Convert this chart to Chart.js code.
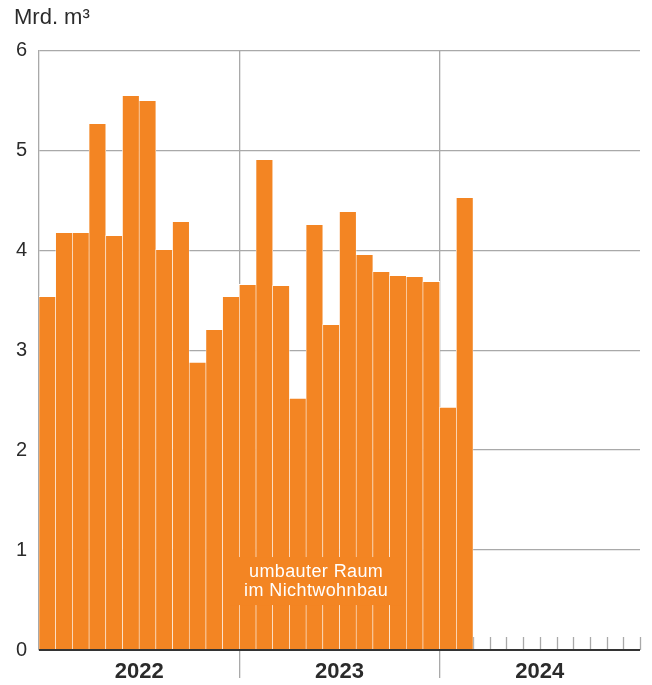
<!DOCTYPE html>
<html>
<head>
<meta charset="utf-8">
<script src="https://cdn.jsdelivr.net/npm/chart.js@4.4.1/dist/chart.umd.min.js"></script>
<style>
html, body { margin: 0; padding: 0; background: #fff; }
</style>
</head>
<body>
<canvas id="c" width="652" height="685"></canvas>
<script>
// monthly volume, non-residential building, Jan 2022 - Feb 2024
var years = ['2022', '2023', '2024'];
var monthNames = ['Jan', 'Feb', 'Mär', 'Apr', 'Mai', 'Jun', 'Jul', 'Aug', 'Sep', 'Okt', 'Nov', 'Dez'];
var volume = [3.54, 4.18, 4.18, 5.27, 4.15, 5.55, 5.50, 4.01, 4.29, 2.88, 3.21, 3.54,
              3.66, 4.91, 3.65, 2.52, 4.26, 3.26, 4.39, 3.96, 3.79, 3.75, 3.74, 3.69,
              2.43, 4.53];
var yTicks = [0, 1, 2, 3, 4, 5, 6];
var unitLabel = 'Mrd. m\u00b3';
var seriesLabel = ['umbauter Raum', 'im Nichtwohnbau'];

var months = [];
years.forEach(function (y) {
    monthNames.forEach(function (m) { months.push(m + ' ' + y); });
});

var ORANGE = '#f38523';
var GRID = '#a9a9a9';
var INK = '#2b2b2b';
var FONT = "'Liberation Sans', Arial, sans-serif";

var framePlugin = {
    id: 'frame',
    beforeDatasetsDraw: function (chart) {
        var ctx = chart.ctx;
        var x = chart.scales.x, y = chart.scales.y;
        var base = y.getPixelForValue(0);
        ctx.save();
        ctx.strokeStyle = GRID;
        ctx.lineWidth = 1.3;
        // small month marks along the baseline, only where there are no bars
        for (var i = volume.length; i <= months.length; i++) {
            var px = Math.round(x.getPixelForValue(i - 0.5)) + 0.5;
            ctx.beginPath();
            ctx.moveTo(px, base - 13);
            ctx.lineTo(px, base);
            ctx.stroke();
        }
        ctx.restore();
    },
    afterDatasetsDraw: function (chart) {
        var ctx = chart.ctx;
        var x = chart.scales.x, y = chart.scales.y;
        var area = chart.chartArea;
        var base = y.getPixelForValue(0);
        ctx.save();
        // dark zero line
        ctx.strokeStyle = '#333';
        ctx.lineWidth = 2;
        ctx.beginPath();
        ctx.moveTo(area.left, base);
        ctx.lineTo(area.right, base);
        ctx.stroke();

        // series label on the bars
        var cx = x.getPixelForValue(16.1);
        var cy = y.getPixelForValue(0.69);
        ctx.fillStyle = ORANGE;
        ctx.fillRect(cx - 87, cy - 24, 174, 48);
        ctx.fillStyle = '#fff';
        ctx.font = '18px ' + FONT;
        ctx.letterSpacing = '0.4px';
        ctx.textAlign = 'center';
        ctx.textBaseline = 'middle';
        ctx.fillText(seriesLabel[0], cx, cy - 9.5);
        ctx.fillText(seriesLabel[1], cx, cy + 10);
        ctx.restore();
    }
};

new Chart(document.getElementById('c'), {
    type: 'bar',
    data: {
        labels: months,
        datasets: [{
            data: volume,
            xAxisID: 'x',
            backgroundColor: ORANGE,
            borderColor: '#fff',
            borderWidth: { left: 0.6, right: 0.6, top: 1, bottom: 0 },
            borderSkipped: 'start',
            barPercentage: 1,
            categoryPercentage: 1
        }]
    },
    options: {
        responsive: false,
        animation: false,
        layout: { padding: { top: 0, left: 14, right: 12, bottom: 0 } },
        plugins: {
            legend: { display: false },
            tooltip: { enabled: false },
            title: {
                display: true,
                text: unitLabel,
                align: 'start',
                color: INK,
                font: { family: FONT, size: 22, weight: 'normal' },
                padding: { top: 5, bottom: 19 }
            }
        },
        scales: {
            x: {
                type: 'category',
                display: false,
                offset: true
            },
            xYear: {
                type: 'category',
                labels: years,
                position: 'bottom',
                offset: true,
                border: { display: false },
                grid: {
                    offset: true,
                    drawTicks: true,
                    tickLength: 28,
                    lineWidth: 1.3,
                    color: function (c) {
                        return (c.type !== 'tick' || c.index === 0) ? 'rgba(0,0,0,0)' : GRID;
                    }
                },
                ticks: {
                    color: INK,
                    padding: -19,
                    maxRotation: 0,
                    font: { family: FONT, size: 22, weight: 'bold' }
                },
                afterFit: function (s) { s.height = 35; }
            },
            y: {
                min: 0,
                max: 6,
                afterBuildTicks: function (s) {
                    s.ticks = yTicks.map(function (v) { return { value: v }; });
                },
                border: { display: true, color: GRID, width: 1.3 },
                grid: { color: GRID, lineWidth: 1.3, drawTicks: false },
                ticks: {
                    color: INK,
                    padding: 12,
                    font: { family: FONT, size: 20 }
                },
                afterFit: function (s) { s.width = 25; }
            }
        }
    },
    plugins: [framePlugin]
});
</script>
</body>
</html>
